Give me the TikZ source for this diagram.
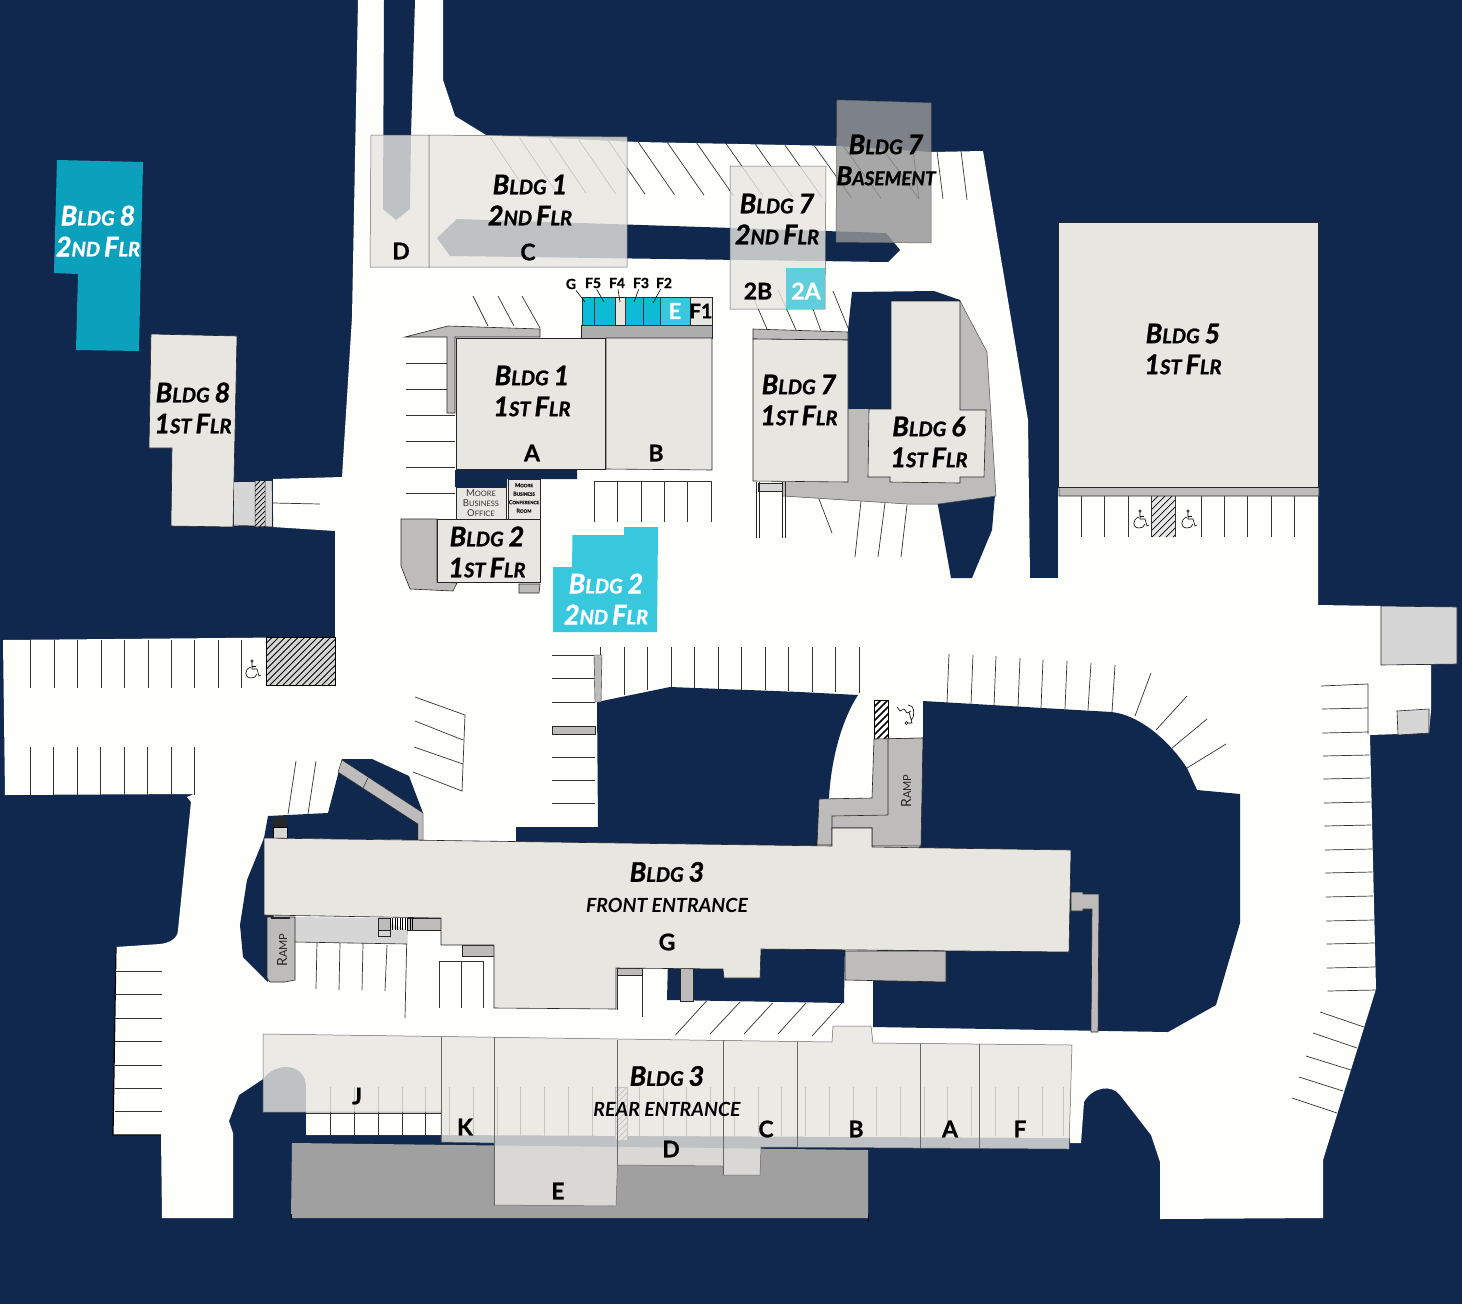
\documentclass[tikz,border=0pt]{standalone}
\usepackage{fontspec}
\setmainfont{Lato}[BoldFeatures={FakeBold=0.8},BoldItalicFeatures={FakeBold=1.2}]
\newfontfamily\subf{Lato}
\definecolor{navy}{HTML}{11284E}
\definecolor{road}{HTML}{FEFEFB}
\definecolor{beige}{HTML}{E7E6E1}
\definecolor{wgray}{HTML}{BDBCBA}
\definecolor{lgray}{HTML}{D6D6D6}
\definecolor{teal}{HTML}{0BA0BC}
\definecolor{cyan2}{HTML}{37C8DE}
\definecolor{cyan3}{HTML}{0DBBD7}
\definecolor{cyan4}{HTML}{4FCBDE}
\definecolor{lot}{HTML}{A0A0A0}
\newcommand\scx[2]{{\fontsize{27}{27}\selectfont #1}{\fontsize{20}{20}\selectfont #2}}
\newcommand\bldg[1]{\scx{B}{LDG}\hspace{5pt}\scx{#1}{}}
\newcommand\flr[2]{\scx{#1}{#2}\hspace{4pt}\scx{F}{LR}}
\newcommand\hatchbox[6]{%
  \begin{scope}
    \clip (#1,#2) rectangle (#3,#4);
    \pgfmathsetmacro\hh{#4-#2}
    \pgfmathsetmacro\tot{#3-#1+\hh}
    \pgfmathsetmacro\sx{#5}
    \foreach \k in {0,\sx,...,\tot}
      \draw[line width=#6,black] ({#1-\hh+\k},#4) -- ({#1+\k},#2);
  \end{scope}}
\newcommand\wheel[2]{%
  \begin{scope}[shift={(#1,#2)},line width=.6pt,black]
    \draw (0,-9) circle (1.2);
    \draw (0,-7.8) -- (0,-1) -- (5,-1) -- (7,6) -- (9,5);
    \draw (0,-4) -- (4,-4);
    \draw (-1,-3) .. controls (-8,-1) and (-8,8) .. (-1,8) .. controls (2,8) and (4,7) .. (5,4);
  \end{scope}}
\tikzset{
  wall/.style={draw=black!85,line width=.6pt},
  bld/.style={wall,fill=beige},
  walk/.style={wall,fill=wgray},
  over/.style={draw=black!60,line width=.5pt,fill=beige,fill opacity=.81},
  pk/.style={draw=black!80,line width=.7pt},
  lab/.style={align=center,inner sep=0pt,font=\fontsize{27}{31}\selectfont\bfseries\itshape,text=black},
  wlab/.style={lab,text=white},
  let/.style={inner sep=0pt,font=\fontsize{23}{23}\selectfont\bfseries,text=black},
  unit/.style={inner sep=1pt,font=\fontsize{14}{14}\selectfont\bfseries,text=black},
  cell/.style={draw=black!80,line width=.5pt,fill=cyan3},
  sub/.style={inner sep=0pt,font=\fontsize{19.5}{19.5}\selectfont\subf\itshape\bfseries,text=black},
  ramp/.style={inner sep=0pt,font=\fontsize{14}{14}\selectfont,text=black!85},
}
\begin{document}
\begin{tikzpicture}[x=1pt,y=-1pt]
\useasboundingbox (0,0) rectangle (1462,1304);
\fill[navy] (0,0) rectangle (1462,1304);
% roads
\fill[road] (358,0)--(384,0)--(415,0)--(443,0)--(443,80)--(455,116)--(486,135)--(638,142)--(837,146)--(932,152)--(983,151)--(1028,420)--(1030,578)--(1058,578)--(1058,222)--(1318,222)--(1318,605)--(1381,606)--(1381,665)--(1431,665)--(1431,710)--(1429,733)--(1370,735)--(1376,989)--(1323,1160)--(1323,1218)--(1160,1219)--(1160,1162)--(1151,1135)--(1120,1095) .. controls (1112,1084) and (1092,1087) .. (1084,1102)--(1081,1143)--(1070,1143)--(1070,1138)--(441,1135)--(306,1135)--(306,1085) .. controls (304,1062) and (275,1062) .. (263,1079)--(239,1095)--(229,1121)--(233,1133)--(233,1218)--(162,1218)--(161,1135)--(113,1135)--(116,947)--(160,944) .. controls (170,943) and (178,938) .. (178,930)--(191,802)--(187,797)--(194,794)--(5,795)--(3,640)--(335,637)--(335,531)--(273,527)--(273,479)--(342,477)--(352,317)--cycle;
% islands
\fill[navy] (384,0)--(415,0)--(411,135)--(410,209)--(396,220)--(383,209)--cycle;
\fill[navy] (437,238)--(457,219)--(886,233)--(900,250)--(888,262)--(450,256)--cycle;
\fill[navy] (852,292)--(934,291)--(960,300)--(960,420)--(848,420)--(848,330)--cycle;
\fill[navy] (937,500)--(995,495)--(992,530)--(972,578)--(951,578)--cycle;
\fill[navy] (455,470)--(577,470)--(577,479)--(507,479)--(507,487)--(455,487)--cycle;
\fill[navy] (597,702)--(670,687)--(800,692)--(858,695) .. controls (845,715) and (832,750) .. (829,797)--(817,846)--(516,842)--(516,827)--(598,827)--cycle;
\fill[navy] (923,701)--(1111,712) .. controls (1135,714) and (1165,735) .. (1187,768)--(1197,790)--(1240,794)--(1240,923)--(1216,1005)--(1168,1032)--(873,1027)--(873,960)--(920,845)--cycle;
\fill[navy] (668,960)--(845,940)--(844,1003)--(667,1000)--cycle;
\fill[navy] (342,759)--(372,759)--(409,776)--(423,813)--(423,840)--(264,838)--(268,816)--(328,813)--cycle;
\fill[navy] (264,838)--(247,880)--(240,925)--(243,957)--(268,982)--(275,900)--cycle;
% rear lot
\fill[lot] (292,1143)--(868,1150)--(868,1218)--(291,1218)--cycle;
\draw[black,line width=.8pt] (291,1214)--(291,1220) (868,1214)--(868,1222);
% north parking
\foreach \x in {490,519.5,549,578.5,608,637.5,667,696.5,726,755.5,785,814.5,844,882}
  \draw[pk] (\x,{137+0.028*(\x-490)}) -- ({\x+37},{192+0.018*(\x-490)});
\draw[pk] (913,150)--(919,199) (937,151)--(943,199) (961,151)--(967,200);
\draw[pk] (750,290)--(767,329) (778,290)--(796,330) (806,290)--(821,331) (833,291)--(848,328);
\draw[pk] (473,296)--(488,326) (498,296)--(514,326) (522,296)--(540,328);
% west of bldg 1
\foreach \y in {363,389,415,441,467,493} \draw[pk] (406,\y)--(455,\y);
\draw[pk] (594,522)--(594,481)--(711,481)--(711,522);
\foreach \x in {617,641,664,687} \draw[pk] (\x,481)--(\x,522);
\draw[pk] (819,499)--(832,533) (861,501)--(855,557) (885,503)--(878,557) (907,505)--(901,557);
% bldg 5 lot
\foreach \x in {1081,1104,1128,1201,1224,1247,1271,1294} \draw[pk] (\x,496)--(\x,537);
\fill[lgray!60] (1151,496) rectangle (1175,537);
\hatchbox{1151}{496}{1175}{537}{7}{.7pt}
\draw[pk] (1151,496)--(1151,537) (1175,496)--(1175,537);
\wheel{1140}{520}
\wheel{1188}{520}
% west lot
\foreach \x in {30,54,77,101,124,148,171,194,218,241} \draw[pk] (\x,640)--(\x,688);
\foreach \x in {30,53,77,100,124,147,171,194} \draw[pk] (\x,747)--(\x,795);
\fill[lgray] (266,637) rectangle (335,685);
\hatchbox{266}{637}{335}{685}{6.5}{.8pt}
\draw[black,line width=.8pt] (266,637) rectangle (335,685);
\wheel{252}{670}
\draw[pk] (415,697)--(465,715)--(462,791)--(413,772) (415,721)--(463,740) (414,747)--(463,764);
\draw[pk] (296,761)--(288,814) (316,761)--(308,814);
% south-west lot
\draw[black,line width=1.2pt] (116,947)--(113,1135)--(161,1135);
\foreach \y in {971,994,1018,1041,1065,1088,1111} \draw[pk] (115,\y)--(162,\y);
% central rows
\foreach \x/\b in {600.5/700,624/695,647.5/690,671/687,694.5/688,718/689,741.5/690,765/690,788.5/691,812/692,835.5/692,859/693}
  \draw[pk] (\x,647)--(\x,\b);
\foreach \y in {655,678,702,757,780,803} \draw[pk] (552,\y)--(595,\y);
\draw[walk,line width=.4pt] (594,655)--(602,655)--(601,702)--(595,702)--cycle;
\draw[walk,line width=.4pt] (552,726)--(595,726)--(595,734)--(552,734)--cycle;
% curved row
\draw[pk] (949,654)--(947,703) (973,655)--(971,704) (996,656)--(994,706) (1020,658)--(1018,707) (1043,660)--(1041,708) (1067,661)--(1065,709) (1091,663)--(1088,710) (1115,665)--(1112,712)
  (1151,673)--(1135,716) (1187,696)--(1156,730) (1207,719)--(1172,748) (1226,744)--(1187,768);
% east lot
\foreach \y in {709,733,756,779,803,826,850,873,897,921,944,968,991}
  \draw[pk] ({1322+(\y-709)*0.02},\y) -- ({1368+(\y-709)*0.028},{\y-1});
\draw[pk] (1321,686)--(1368,684)--(1368,734);
\draw[pk] (1320,1012)--(1364,1027) (1313,1033)--(1357,1048) (1306,1056)--(1351,1070) (1299,1077)--(1343,1091) (1292,1098)--(1337,1113);
% service boxes east
\draw[wall,fill=lgray] (1381,606)--(1457,607)--(1457,664)--(1381,665)--cycle;
\draw[wall,fill=lgray] (1397,711)--(1429,709)--(1429,733)--(1398,735)--cycle;
% stripe at island
\draw[walk,line width=.4pt] (342,760)--(423,813)--(423,840)--(418,840)--(418,824)--(338,772)--cycle;
\draw[black!80,line width=.6pt] (368,778)--(363,788);
\fill[black!85] (273,817) rectangle (287,827);
\draw[black,fill=lgray,line width=.6pt] (273,827) rectangle (287,838);
% under front bldg
\draw[pk] (317,942)--(316,989) (340,943)--(339,990) (363,944)--(362,990) (387,945)--(385,991) (407,930)--(405,1018);
\draw[pk] (439,1008)--(439,961)--(483,961)--(483,1008) (461,961)--(461,1008);
\draw[pk] (642,975)--(642,1017) (617,975)--(617,1010);
\draw[pk] (706.5,1001)--(675.5,1035) (740,1002)--(710,1034) (772.5,1003)--(744,1034) (806,1003)--(778,1034) (842,1003)--(812,1036);
% rear faint stalls
\foreach \x in {330,354,378,402,425,449,473,497,520,544,568,592,639,663,686,710,734,758,781,805,829,853,876,900,924,947,971,995,1018,1042,1063}
  \draw[pk] (\x,1087)--(\x,1136);
\draw[pk] (306,1113)--(441,1113) (306,1135)--(441,1135);
\fill[lgray!50] (615,1087) rectangle (627,1140);
\hatchbox{615}{1087}{627}{1140}{6}{.6pt}
\draw[pk] (615,1087) rectangle (627,1140);
% walkways and gray
\draw[walk] (405,337)--(448,326)--(540,329)--(540,337)--(455,337)--(455,413)--(447,413)--(447,337)--cycle;
\draw[wall,fill=lot!85!white] (581,325)--(712,325)--(712,338)--(581,338)--cycle;
\draw[wall,fill=wgray] (753,329)--(848,332)--(848,340)--(753,339)--cycle;
\draw[walk,draw=none] (783,482)--(848,482)--(848,409)--(960,409)--(960,301)--(987,352)--(996,496)--(938,504)--(907,504)--(783,496)--cycle;
\draw[black!70,line width=.5pt] (960,301)--(987,352)--(996,496)--(938,504)--(907,504)--(783,496);
\draw[wall,fill=lgray] (758,483) rectangle (782,491);
\draw[black!85,line width=.8pt] (756,482)--(756,538) (759,482)--(759,538) (782,482)--(782,538) (785,482)--(785,538);
\draw[walk] (1059,487)--(1319,486)--(1319,496)--(1059,496)--cycle;
% ramp north of bldg 3
\fill[road] (888,739)--(888,701)--(923,701)--(923,739)--cycle;
\draw[black!85,line width=.6pt] (888,739)--(923,738);
\fill[white] (874,700) rectangle (888,739);
\hatchbox{874}{700}{888}{739}{7}{1.6pt}
\draw[black,line width=.8pt] (874,700) rectangle (888,739);
\draw[black,line width=.6pt] (906.5,723) circle (1.5) (908,723)--(912,723)--(909,712) (897,707)--(900,711)--(904,709)--(907,713)--(911,711)
 (908,705) .. controls (914,704) and (916,716) .. (911,720);
\draw[walk] (874,739)--(923,738)--(921,846)--(872,846)--(872,828)--(832,828)--(832,845)--(817,845)--(819,799)--(872,798)--cycle;
\draw[black!85,line width=.6pt] (888,739)--(888,815)--(832,816)--(832,828);
\draw[walk] (1071,892)--(1083,892)--(1083,894)--(1099,894)--(1098,1032)--(1091,1032)--(1092,909)--(1083,909)--(1083,911)--(1071,911)--cycle;
\draw[walk] (845,951)--(946,951)--(946,982)--(845,980)--cycle;
\draw[walk] (462,945)--(494,945)--(494,956)--(462,956)--cycle;
\draw[walk] (617,968)--(642,968)--(642,975)--(617,975)--cycle;
\draw[walk] (680,968)--(693,968)--(693,1001)--(680,1001)--cycle;
% left side of front bldg
\draw[wall,fill=lgray,draw=none] (295,917)--(378,918)--(407,930)--(407,944)--(295,942)--cycle;
\draw[black!85,line width=.6pt] (295,942)--(407,944);
\draw[walk,line width=.4pt] (407,918)--(441,918)--(441,930)--(407,930)--cycle;
\draw[walk] (378,918) rectangle (390,930);
\draw[wall,fill=lgray] (378,930) rectangle (390,936);
\foreach \x in {390,392.5,...,413} \draw[black,line width=.5pt] (\x,918)--(\x,930);
\draw[walk] (267,917)--(295,917)--(295,980)--(285,982)--(270,982)--(267,978)--cycle;
\fill[black!85] (271,917) rectangle (290,919);
% bldg 8
\draw[bld] (151,334)--(237,336)--(233,527)--(171,526)--(172,448)--(149,448)--cycle;
\fill[lgray] (234,482) rectangle (255,526);
\fill[lgray] (265,481) rectangle (272,527);
\fill[lgray] (255,481) rectangle (265,527);
\hatchbox{255}{481}{265}{527}{5}{.7pt}
\draw[black!85,line width=.5pt] (234,482)--(272,480)--(273,527)--(234,525) (255,481)--(255,527) (265,481)--(265,527);
\draw[pk] (273,503)--(320,504);
\fill[teal] (57,160)--(143,162)--(139,351)--(76,350)--(78,274)--(54,273)--cycle;
% bldg 1 first
\draw[bld] (456,338) rectangle (605,469);
\draw[bld] (606,338)--(712,338)--(712,470)--(606,469)--cycle;
\draw[bld] (456,487) rectangle (506,519);
\draw[bld] (508,479) rectangle (540,519);
% units
\draw[cell] (582,297) rectangle (594,325);
\draw[cell] (594,297) rectangle (615,325);
\draw[wall,fill=beige] (615,297) rectangle (625,325);
\draw[cell] (625,297) rectangle (643,325);
\draw[cell] (643,297) rectangle (660,325);
\draw[cell,fill=cyan2] (660,297) rectangle (690,325);
\draw[wall,fill=beige] (690,297) rectangle (712,325);
% bldg 2
\draw[walk] (401,519)--(437,519)--(437,582)--(457,583)--(453,591)--(410,589)--(401,566)--cycle;
\draw[walk] (519,584)--(540,584)--(539,593)--(519,593)--cycle;
\draw[bld] (437,519) rectangle (540,582);
\fill[cyan2] (624,527)--(658,527)--(657,632)--(553,632)--(553,567)--(572,567)--(572.5,535)--(624,535)--cycle;
% bldg 7 / 6 / 5
\draw[bld] (753,339)--(848,340)--(848,482)--(753,481)--cycle;
\draw[bld] (891,301)--(960,301)--(960,410)--(986,410)--(984,477)--(960,477)--(960,483)--(890,482)--(890,477)--(868,477)--(869,409)--(891,409)--cycle;
\draw[bld] (1058,222) rectangle (1318,487);
% bldg 3 front
\draw[bld] (264,838)--(832,846)--(832,828)--(872,828)--(872,847)--(1071,850)--(1069,952)--(761,949)--(760,978)--(724,978)--(723,969)--(616,968)--(616,1009)--(494,1008)--(494,945)--(441,945)--(441,918)--(264,915)--cycle;
% overlays
\draw[over] (371,135)--(429,135)--(429,267)--(370,267)--cycle;
\draw[over] (429,135)--(627,137)--(627,267)--(429,267)--cycle;
\draw[over] (730,166)--(826,166)--(825,309)--(730,309)--cycle;
\fill[cyan4,fill opacity=.88] (786,268) rectangle (825,309);
\draw[black!60,line width=.5pt,fill={rgb,255:red,149;green,149;blue,149},fill opacity=.82] (837,100)--(931,103)--(931,243)--(836,242)--cycle;
\draw[over] (263,1034)--(832,1042)--(833,1026)--(871,1026)--(873,1043)--(1072,1045)--(1069,1149)--(761,1147)--(760,1175)--(723,1175)--(723,1166)--(617.5,1165)--(616,1206)--(494,1205)--(494,1143)--(441,1142)--(441,1112)--(263,1112)--cycle;
\draw[black!60,line width=.5pt] (441,1037)--(441,1142) (494,1037)--(494,1205) (617.5,1040)--(617.5,1165) (723,1040)--(723,1175) (797,1042)--(797,1147) (920.5,1044)--(920.5,1148) (979,1044)--(979,1148);
% labels
\node[lab] (n1u) at (530,200) {\bldg{1}\\\flr{2}{ND}};
\node[lab] (n7b) at (886,160) {\bldg{7}\\{\fontsize{26}{26}\selectfont B}{\fontsize{19}{19}\selectfont ASEMENT}};
\node[lab] (n7u) at (777,219) {\bldg{7}\\\flr{2}{ND}};
\node[let] (n2b) at (758,291) {2B};
\node[let,text=white] (n2a) at (806,291) {2A};
\node[let] (nD) at (401,251) {D};
\node[let] (nC) at (528,252) {C};
\node[lab] (n5) at (1183,349) {\bldg{5}\\\flr{1}{ST}};
\node[wlab] (n8u) at (98,231) {\bldg{8}\\\flr{2}{ND}};
\node[lab] (n8) at (193,408) {\bldg{8}\\\flr{1}{ST}};
\node[lab] (n1) at (532,391) {\bldg{1}\\\flr{1}{ST}};
\node[let] (nA) at (532,453) {A};
\node[let] (nB) at (656,453) {B};
\node[lab] (n7) at (799,400) {\bldg{7}\\\flr{1}{ST}};
\node[lab] (n6) at (929,442) {\bldg{6}\\\flr{1}{ST}};
\node[lab] (n2) at (487,552) {\bldg{2}\\\flr{1}{ST}};
\node[wlab] (n2u) at (606,599) {\bldg{2}\\\flr{2}{ND}};
\node[lab] (n3f) at (667,872) {\bldg{3}};
\node[sub] (nfe) at (667,905) {FRONT ENTRANCE};
\node[let] (nG) at (667,942) {G};
\node[lab] (n3r) at (667,1076) {\bldg{3}};
\node[sub] (nre) at (667,1109) {REAR ENTRANCE};
\node[let] (nJ) at (357,1096) {J};
\node[let] (nK) at (465,1127) {K};
\node[let] (nC2) at (766,1129) {C};
\node[let] (nB2) at (856,1129) {B};
\node[let] (nA2) at (950,1129) {A};
\node[let] (nF) at (1020,1129) {F};
\node[let] (nD2) at (671,1149) {D};
\node[let] (nE2) at (558,1191) {E};
\node[let,text=white,font=\fontsize{22}{22}\selectfont\bfseries] (nE) at (675,311) {E};
\node[let,font=\fontsize{20}{20}\selectfont\bfseries] (nF1) at (701,311) {F1};
\node[unit] (lG) at (571,284) {G};
\node[unit] (lF5) at (593,283) {F5};
\node[unit] (lF4) at (617,283) {F4};
\node[unit] (lF3) at (641,283) {F3};
\node[unit] (lF2) at (664,283) {F2};
\coordinate (tG) at (585,302);
\coordinate (tF5) at (604,302);
\coordinate (tF4) at (620,302);
\coordinate (tF3) at (634,302);
\coordinate (tF2) at (653,303);
\draw[black,line width=.6pt] (lG)--(tG) (lF5)--(tF5) (lF4)--(tF4) (lF3)--(tF3) (lF2)--(tF2);
\node[align=center,inner sep=0pt,text=black!80,font=\fontsize{9.5}{10}\selectfont] (nmo) at (481,503) {M{\fontsize{7.5}{10}\selectfont OORE}\\B{\fontsize{7.5}{10}\selectfont USINESS}\\O{\fontsize{7.5}{10}\selectfont FFICE}};
\node[align=center,inner sep=0pt,text=black!90,font=\fontsize{5.5}{8.5}\selectfont\bfseries] (nmc) at (524,498) {M{\fontsize{4.5}{8.5}\selectfont OORE}\\B{\fontsize{4.5}{8.5}\selectfont USINESS}\\C{\fontsize{4.5}{8.5}\selectfont ONFERENCE}\\R{\fontsize{4.5}{8.5}\selectfont OOM}};
\node[ramp,rotate=90] (nr1) at (906,791) {R{\fontsize{11}{11}\selectfont AMP}};
\node[ramp,rotate=90] (nr2) at (282,950) {R{\fontsize{11}{11}\selectfont AMP}};
\end{tikzpicture}
\end{document}
